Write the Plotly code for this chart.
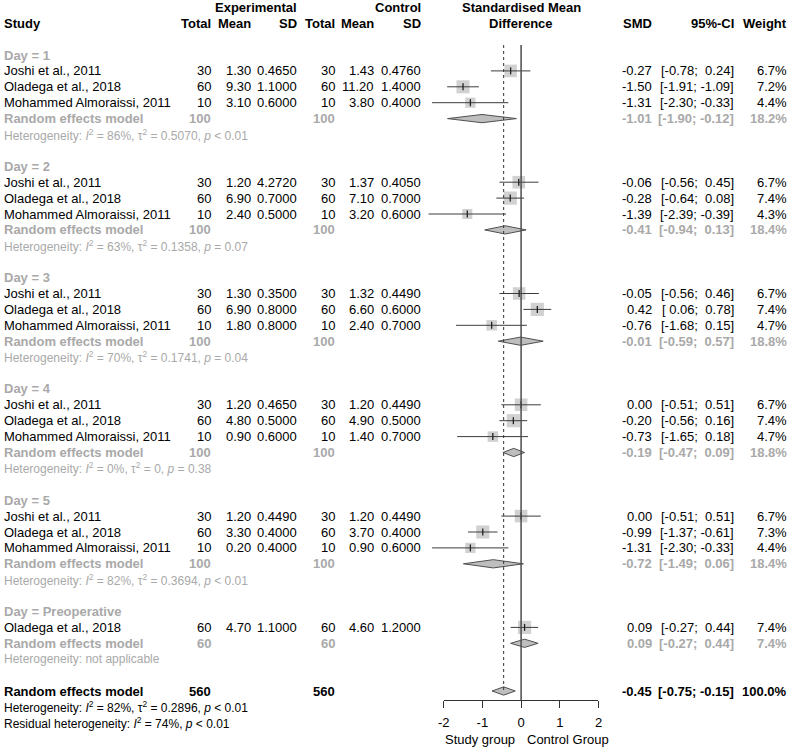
import math
import plotly.graph_objects as go

W, H = 789, 747
FONT = "Liberation Sans, Arial, sans-serif"
BLACK = "#000000"
GREY = "#a9a9a9"
SQUARE = "#bebebe"
LINE = "#3c3c3c"

# pixel geometry of the forest column / rows
ZERO_PX, PX_PER_UNIT = 521.7, 39.2
ROW0_PX, ROW_H = 55, 15.9
AXIS_PX = 700
LEFT_PX = -2

# ---- data ----
SUBGROUPS = ["Day = 1", "Day = 2", "Day = 3", "Day = 4", "Day = 5", "Day = Preoperative"]
STUDY_GROUP = [0, 0, 0, 1, 1, 1, 2, 2, 2, 3, 3, 3, 4, 4, 4, 5]
STUDY_NAME = ["Joshi et al., 2011", "Oladega et al., 2018", "Mohammed Almoraissi, 2011"] * 5 + ["Oladega et al., 2018"]
EXP_N = [30, 60, 10] * 5 + [60]
EXP_MEAN = [1.30, 9.30, 3.10, 1.20, 6.90, 2.40, 1.30, 6.90, 1.80, 1.20, 4.80, 0.90, 1.20, 3.30, 0.20, 4.70]
EXP_SD = [0.4650, 1.1000, 0.6000, 4.2720, 0.7000, 0.5000, 0.3500, 0.8000, 0.8000,
          0.4650, 0.5000, 0.6000, 0.4490, 0.4000, 0.4000, 1.1000]
CTRL_N = [30, 60, 10] * 5 + [60]
CTRL_MEAN = [1.43, 11.20, 3.80, 1.37, 7.10, 3.20, 1.32, 6.60, 2.40, 1.20, 4.90, 1.40, 1.20, 3.70, 0.90, 4.60]
CTRL_SD = [0.4760, 1.4000, 0.4000, 0.4050, 0.7000, 0.6000, 0.4490, 0.6000, 0.7000,
           0.4490, 0.5000, 0.7000, 0.4490, 0.4000, 0.6000, 1.2000]
SMD = [-0.27, -1.50, -1.31, -0.06, -0.28, -1.39, -0.05, 0.42, -0.76, 0.00, -0.20, -0.73, 0.00, -0.99, -1.31, 0.09]
CI_LO = [-0.78, -1.91, -2.30, -0.56, -0.64, -2.39, -0.56, 0.06, -1.68, -0.51, -0.56, -1.65, -0.51, -1.37, -2.30, -0.27]
CI_HI = [0.24, -1.09, -0.33, 0.45, 0.08, -0.39, 0.46, 0.78, 0.15, 0.51, 0.16, 0.18, 0.51, -0.61, -0.33, 0.44]
WEIGHT = [6.7, 7.2, 4.4, 6.7, 7.4, 4.3, 6.7, 7.4, 4.7, 6.7, 7.4, 4.7, 6.7, 7.3, 4.4, 7.4]

SUB_N = [100, 100, 100, 100, 100, 60]
SUB_SMD = [-1.01, -0.41, -0.01, -0.19, -0.72, 0.09]
SUB_LO = [-1.90, -0.94, -0.59, -0.47, -1.49, -0.27]
SUB_HI = [-0.12, 0.13, 0.57, 0.09, 0.06, 0.44]
SUB_W = [18.2, 18.4, 18.8, 18.8, 18.4, 7.4]
SUB_I2 = ["86%", "63%", "70%", "0%", "82%", None]
SUB_TAU2 = ["0.5070", "0.1358", "0.1741", "0", "0.3694", None]
SUB_P = ["&lt; 0.01", "= 0.07", "= 0.04", "= 0.38", "&lt; 0.01", None]

TOTAL_N = 560
TOTAL_SMD, TOTAL_LO, TOTAL_HI, TOTAL_W = -0.45, -0.75, -0.15, 100.0
TOTAL_I2, TOTAL_TAU2, TOTAL_P = "82%", "0.2896", "&lt; 0.01"
RESID_I2, RESID_P = "74%", "&lt; 0.01"

AXIS_TICKS = [-2, -1, 0, 1, 2]
LABEL_LEFT, LABEL_RIGHT = "Study group", "Control Group"

# right edges of the text columns (px)
COL = dict(en=208, em=248, esd=295, cn=333, cm=373, csd=420, smd=654, ci=737, w=791)


def row_of(px):
    return (px - ROW0_PX) / ROW_H


def fmt_ci(lo, hi):
    return ("[%5.2f; %5.2f]" % (lo, hi)).replace(" ", "\u00a0")


ann = []


def txt(px, r, s, anchor="right", bold=False, color=BLACK, size=13):
    ann.append(dict(
        xref="paper", yref="y", x=px / W, y=r,
        text=f"<b>{s}</b>" if bold else s,
        xanchor=anchor, yanchor="middle", showarrow=False,
        borderpad=0, borderwidth=0,
        font=dict(family=FONT, size=size, color=color),
    ))


# headers
txt(COL["esd"], -3, "Experimental", bold=True)
txt(COL["csd"], -3, "Control", bold=True)
txt(ZERO_PX, -3, "Standardised Mean", anchor="center", bold=True)
txt(LEFT_PX, -2, "Study", anchor="left", bold=True)
for k, h in [("en", "Total"), ("em", "Mean"), ("esd", "SD"), ("cn", "Total"), ("cm", "Mean"),
             ("csd", "SD"), ("smd", "SMD"), ("ci", "95%-CI"), ("w", "Weight")]:
    txt(COL[k], -2, h, bold=True)
txt(ZERO_PX, -2, "Difference", anchor="center", bold=True)

# rows
study_rows, sub_rows = [], []
r = 0
for g, label in enumerate(SUBGROUPS):
    txt(LEFT_PX, r, label, anchor="left", bold=True, color=GREY)
    r += 1
    for i, grp in enumerate(STUDY_GROUP):
        if grp != g:
            continue
        study_rows.append(r)
        txt(LEFT_PX, r, STUDY_NAME[i], anchor="left")
        txt(COL["en"], r, str(EXP_N[i]))
        txt(COL["em"], r, "%.2f" % EXP_MEAN[i])
        txt(COL["esd"], r, "%.4f" % EXP_SD[i])
        txt(COL["cn"], r, str(CTRL_N[i]))
        txt(COL["cm"], r, "%.2f" % CTRL_MEAN[i])
        txt(COL["csd"], r, "%.4f" % CTRL_SD[i])
        txt(COL["smd"], r, "%.2f" % SMD[i])
        txt(COL["ci"], r, fmt_ci(CI_LO[i], CI_HI[i]))
        txt(COL["w"], r, "%.1f%%" % WEIGHT[i])
        r += 1
    sub_rows.append(r)
    txt(LEFT_PX, r, "Random effects model", anchor="left", bold=True, color=GREY)
    txt(COL["en"], r, str(SUB_N[g]), bold=True, color=GREY)
    txt(COL["cn"], r, str(SUB_N[g]), bold=True, color=GREY)
    txt(COL["smd"], r, "%.2f" % SUB_SMD[g], bold=True, color=GREY)
    txt(COL["ci"], r, fmt_ci(SUB_LO[g], SUB_HI[g]), bold=True, color=GREY)
    txt(COL["w"], r, "%.1f%%" % SUB_W[g], bold=True, color=GREY)
    r += 1
    if SUB_I2[g] is None:
        het = "Heterogeneity: not applicable"
    else:
        het = (f"Heterogeneity: <i>I</i><sup>2</sup> = {SUB_I2[g]}, \u03c4<sup>2</sup> = {SUB_TAU2[g]}, "
               f"<i>p</i> {SUB_P[g]}")
    txt(LEFT_PX, r, het, anchor="left", color=GREY, size=12)
    r += 2

total_row = r
txt(LEFT_PX, r, "Random effects model", anchor="left", bold=True)
txt(COL["en"], r, str(TOTAL_N), bold=True)
txt(COL["cn"], r, str(TOTAL_N), bold=True)
txt(COL["smd"], r, "%.2f" % TOTAL_SMD, bold=True)
txt(COL["ci"], r, fmt_ci(TOTAL_LO, TOTAL_HI), bold=True)
txt(COL["w"], r, "%.1f%%" % TOTAL_W, bold=True)
txt(LEFT_PX, r + 1, f"Heterogeneity: <i>I</i><sup>2</sup> = {TOTAL_I2}, \u03c4<sup>2</sup> = {TOTAL_TAU2}, <i>p</i> {TOTAL_P}",
    anchor="left", size=12)
txt(LEFT_PX, r + 2, f"Residual heterogeneity: <i>I</i><sup>2</sup> = {RESID_I2}, <i>p</i> {RESID_P}",
    anchor="left", size=12)

axis_row = row_of(AXIS_PX)
txt(ZERO_PX - 6, row_of(739), LABEL_LEFT, anchor="right")
txt(ZERO_PX + 6, row_of(739), LABEL_RIGHT, anchor="left")

fig = go.Figure()

# reference lines
top_row = row_of(45)
fig.add_shape(type="line", x0=0, x1=0, y0=top_row, y1=axis_row, xref="x", yref="y",
              line=dict(color="#4d4d4d", width=1.5))
fig.add_shape(type="line", x0=TOTAL_SMD, x1=TOTAL_SMD, y0=top_row, y1=total_row, xref="x", yref="y",
              line=dict(color="#333333", width=1, dash="dot"))

# squares
fig.add_trace(go.Scatter(
    x=SMD, y=study_rows, mode="markers", hoverinfo="skip",
    marker=dict(symbol="square", color=SQUARE, size=[4.85 * math.sqrt(w) for w in WEIGHT], line=dict(width=0)),
))

# confidence intervals
cx, cy = [], []
for lo, hi, rr in zip(CI_LO, CI_HI, study_rows):
    cx += [lo, hi, None]
    cy += [rr, rr, None]
fig.add_trace(go.Scatter(x=cx, y=cy, mode="lines", hoverinfo="skip", line=dict(color=LINE, width=1)))

# point estimate ticks
fig.add_trace(go.Scatter(
    x=SMD, y=study_rows, mode="markers", hoverinfo="skip",
    marker=dict(symbol="line-ns", size=5, line=dict(width=1.3, color="#222222")),
))

# diamonds
dh = 0.26
dx, dy = [], []
for est, lo, hi, rr in zip(SUB_SMD + [TOTAL_SMD], SUB_LO + [TOTAL_LO], SUB_HI + [TOTAL_HI], sub_rows + [total_row]):
    dx += [lo, est, hi, est, lo, None]
    dy += [rr, rr - dh, rr, rr + dh, rr, None]
fig.add_trace(go.Scatter(
    x=dx, y=dy, mode="lines", fill="toself", fillcolor=SQUARE, hoverinfo="skip",
    line=dict(color="#505050", width=1),
))

# visible bottom axis
fig.add_trace(go.Scatter(x=AXIS_TICKS, y=[None] * len(AXIS_TICKS), xaxis="x2", yaxis="y",
                         mode="markers", hoverinfo="skip"))

fig.update_layout(
    width=W, height=H, autosize=False,
    margin=dict(l=0, r=0, t=0, b=0),
    paper_bgcolor="white", plot_bgcolor="rgba(0,0,0,0)",
    showlegend=False,
    font=dict(family=FONT, size=13, color=BLACK),
    xaxis=dict(range=[-ZERO_PX / PX_PER_UNIT, (W - ZERO_PX) / PX_PER_UNIT], domain=[0, 1],
               visible=False, fixedrange=True),
    xaxis2=dict(range=[AXIS_TICKS[0], AXIS_TICKS[-1]],
                domain=[(ZERO_PX + AXIS_TICKS[0] * PX_PER_UNIT) / W, (ZERO_PX + AXIS_TICKS[-1] * PX_PER_UNIT) / W],
                anchor="free", position=1 - AXIS_PX / H, side="bottom",
                showline=True, linecolor="#333333", linewidth=1.2,
                ticks="outside", ticklen=7, tickwidth=1.2, tickcolor="#333333",
                ticklabelstandoff=3,
                tickvals=AXIS_TICKS, ticktext=[str(t) for t in AXIS_TICKS],
                tickfont=dict(family=FONT, size=13, color=BLACK),
                showgrid=False, zeroline=False, fixedrange=True),
    yaxis=dict(range=[row_of(H), row_of(0)], domain=[0, 1], visible=False, fixedrange=True),
    annotations=ann,
)

fig.write_html("out.html", config={"displayModeBar": False},
               post_script="document.body.style.margin='0px';")
